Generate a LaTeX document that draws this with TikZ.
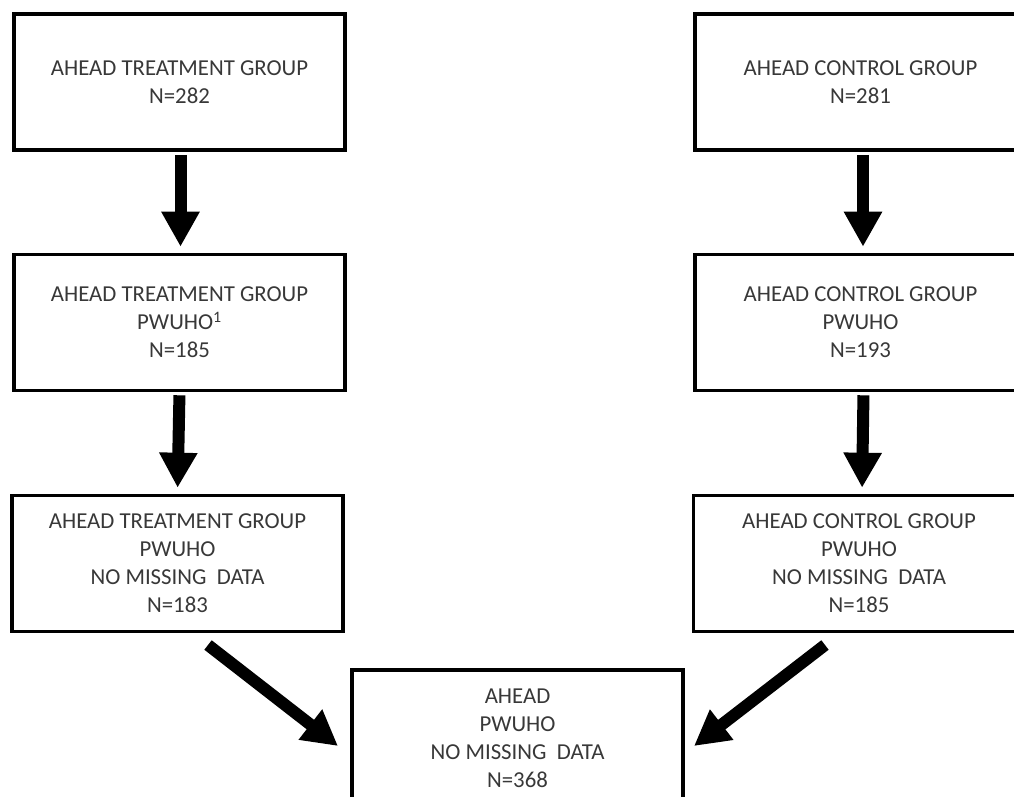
\documentclass[tikz,border=0pt]{standalone}
\usepackage{fontspec}
\setmainfont{Carlito}
\usetikzlibrary{arrows.meta}
\begin{document}
\begin{tikzpicture}[x=1pt,y=-1pt,
  box/.style={draw=black, line width=3.6pt, minimum width=331pt, minimum height=136pt,
    inner sep=0pt, align=center, text=black!78,
    font=\fontsize{22.8pt}{28pt}\selectfont},
  bigarrow/.style={line width=12pt, draw=black, -{Triangle[width=36pt,length=35pt]}}]
\useasboundingbox (0,0) rectangle (1014,797);
\clip (0,0) rectangle (1014,797);
\node[box] (t1) at (179.5,82) {AHEAD TREATMENT GROUP\\N=282};
\node[box] (c1) at (860.5,82) {AHEAD CONTROL GROUP\\N=281};
\node[box] (t2) at (179.5,322.5) {AHEAD TREATMENT GROUP\\PWUHO\textsuperscript{1}\\N=185};
\node[box] (c2) at (860.5,322.5) {AHEAD CONTROL GROUP\\PWUHO\\N=193};
\node[box] (t3) at (177.5,563.5) {AHEAD TREATMENT GROUP\\PWUHO\\NO MISSING~ DATA\\N=183};
\node[box] (c3) at (859,563.5) {AHEAD CONTROL GROUP\\PWUHO\\NO MISSING~ DATA\\N=185};
\node[box] (all) at (517.5,738) {AHEAD\\PWUHO\\NO MISSING~ DATA\\N=368};
\draw[bigarrow, shorten <=3pt, shorten >=6pt] ([xshift=1pt]t1.south) -- ([xshift=1pt]t2.north);
\draw[bigarrow, shorten <=3pt, shorten >=6pt] ([xshift=2.5pt]c1.south) -- ([xshift=2.5pt]c2.north);
\draw[bigarrow, shorten <=3pt, shorten >=6pt] ([xshift=0pt]t2.south) -- ([xshift=0pt]t3.north);
\draw[bigarrow, shorten <=3pt, shorten >=6pt] ([xshift=3pt]c2.south) -- ([xshift=3pt]c3.north);
\coordinate (lt) at (208,645);
\coordinate (lh) at (338,746);
\coordinate (rt) at (825,645);
\coordinate (rh) at (694,746);
\draw[bigarrow] (lt) -- (lh);
\draw[bigarrow] (rt) -- (rh);
\end{tikzpicture}
\end{document}
